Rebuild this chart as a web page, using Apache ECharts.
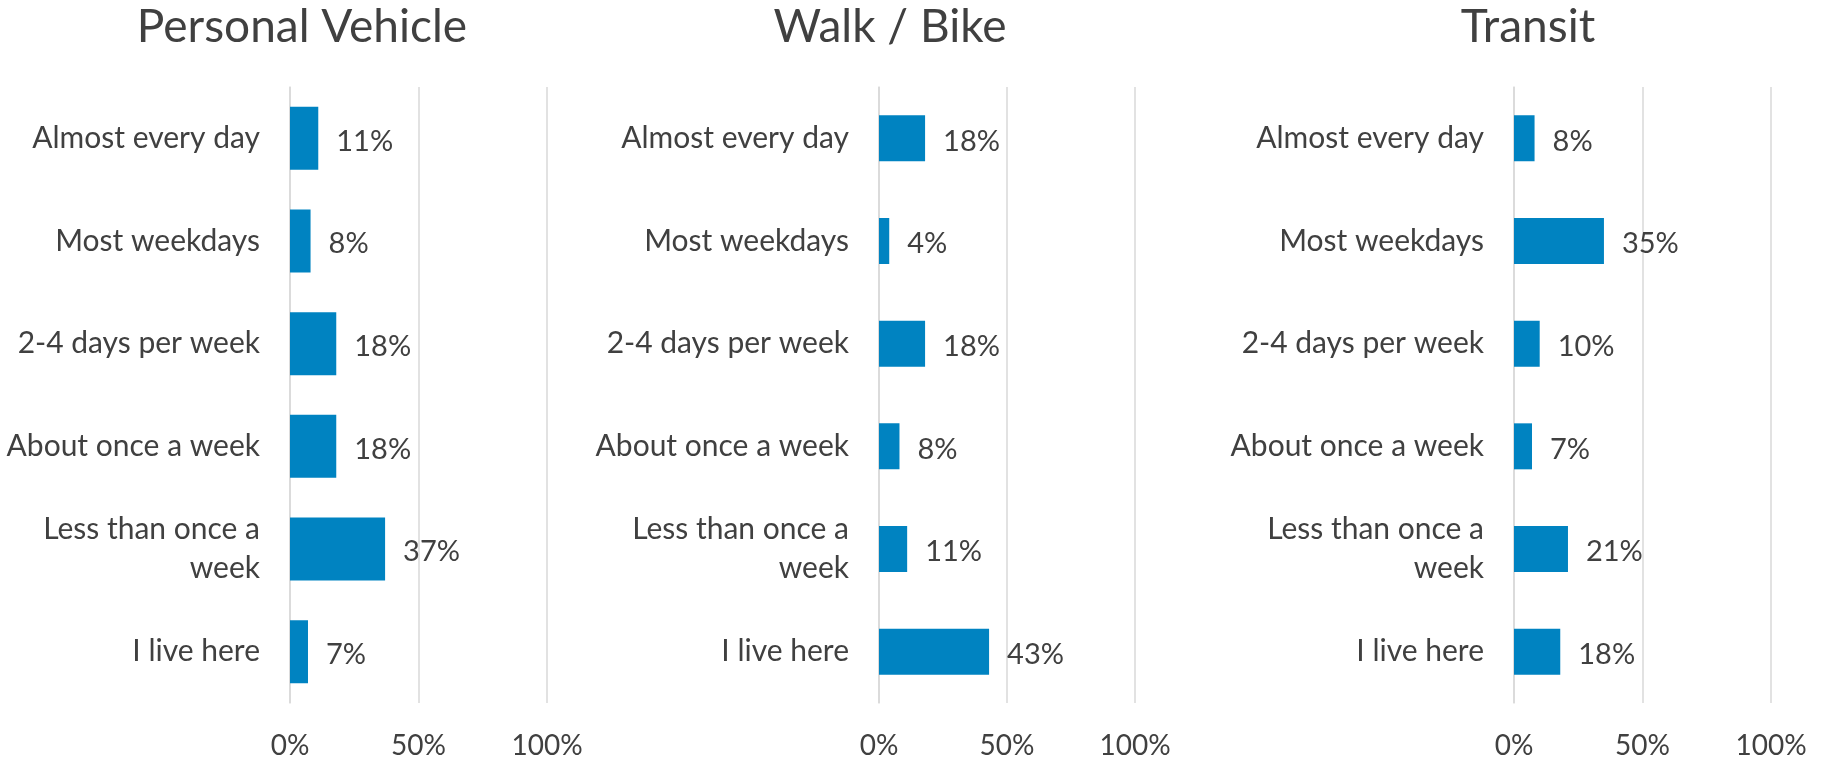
<!DOCTYPE html>
<html>
<head>
<meta charset="utf-8">
<title>Trip frequency by mode</title>
<script src="https://cdn.jsdelivr.net/npm/echarts@6/dist/echarts.min.js"></script>
<style>
  html, body { margin: 0; padding: 0; background: #fff; }
  #chart { width: 1826px; height: 763px; }
</style>
</head>
<body>
<div id="chart"></div>
<script>
// categories, top to bottom
var categories = ['Almost every day', 'Most weekdays', '2-4 days per week',
  'About once a week', 'Less than once a\nweek', 'I live here']
var panelTitles = ['Personal Vehicle', 'Walk / Bike', 'Transit']
// percent of respondents
var personalVehicle = [11, 8, 18, 18, 37, 7]
var walkBike = [18, 4, 18, 8, 11, 43]
var transit = [8, 35, 10, 7, 21, 18]
var xTicks = [0, 50, 100]

var seriesData = [personalVehicle, walkBike, transit]
var textColor = '#404040'
var lineColor = '#d9d9d9'
var font = 'Lato'

// layout of each panel (pixels)
var panels = [
  { left: 290, width: 257, titleX: 302, barWidth: 63 },
  { left: 879, width: 256, titleX: 890, barWidth: 46 },
  { left: 1514, width: 257, titleX: 1528, barWidth: 46 }
]

var option = {
  backgroundColor: '#fff',
  animation: false,
  textStyle: { fontFamily: font },
  title: [],
  grid: [],
  xAxis: [],
  yAxis: [],
  series: []
}

panels.forEach(function (p, i) {
  option.title.push({
    text: panelTitles[i],
    left: p.titleX,
    top: 4,
    padding: 0,
    textAlign: 'center',
    textStyle: { fontFamily: font, fontSize: 46, fontWeight: 'normal', color: textColor }
  })
  option.grid.push({ left: p.left, width: p.width, top: 87, height: 616 })
  option.xAxis.push({
    gridIndex: i,
    type: 'value',
    min: xTicks[0],
    max: xTicks[xTicks.length - 1],
    interval: xTicks[1] - xTicks[0],
    axisLine: { show: false },
    axisTick: { show: false },
    splitLine: { lineStyle: { color: lineColor, width: 1.5 } },
    axisLabel: {
      formatter: '{value}%', color: textColor, fontSize: 28, fontFamily: font, margin: 29
    }
  })
  option.yAxis.push({
    gridIndex: i,
    type: 'category',
    inverse: true,
    data: categories,
    axisLine: { lineStyle: { color: lineColor, width: 1.5 } },
    axisTick: { length: 10, lineStyle: { color: lineColor, width: 1.5 } },
    axisLabel: {
      color: textColor, fontSize: 30, fontFamily: font, margin: 30, lineHeight: 39
    }
  })
  option.series.push({
    type: 'bar',
    xAxisIndex: i,
    yAxisIndex: i,
    data: seriesData[i],
    barWidth: p.barWidth,
    itemStyle: { color: '#0083c1' },
    label: {
      show: true,
      position: 'right',
      distance: 18,
      offset: [0, 3],
      formatter: '{c}%',
      color: textColor,
      fontSize: 29,
      fontFamily: font
    }
  })
})

var chart = echarts.init(document.getElementById('chart'))
chart.setOption(option)
</script>
</body>
</html>
